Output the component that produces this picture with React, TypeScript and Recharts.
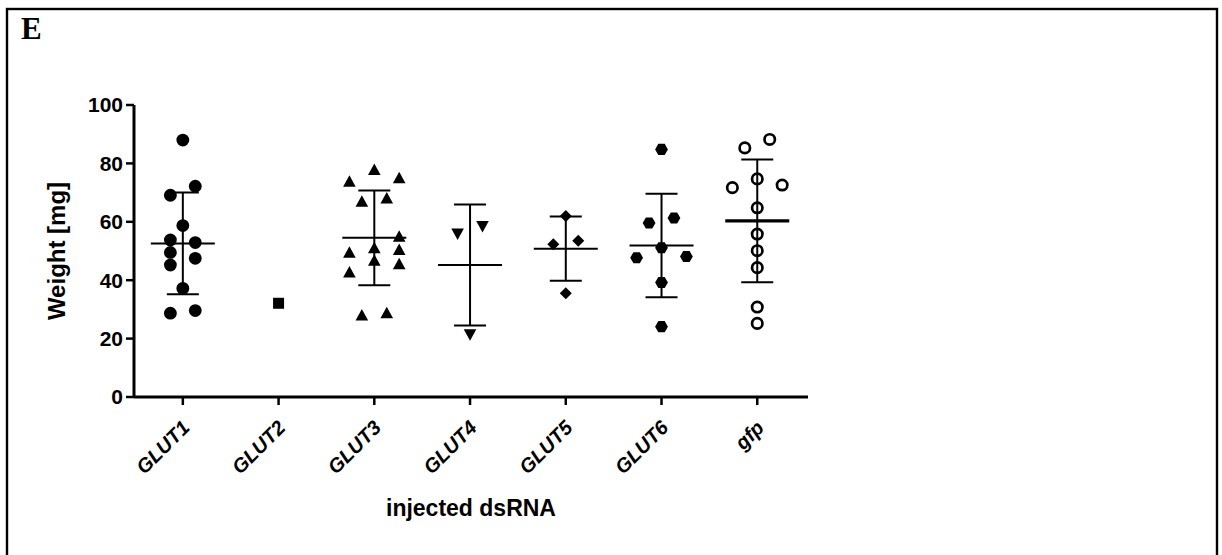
import { ComposedChart, Scatter, XAxis, YAxis, ErrorBar, Label } from "recharts"

// dsRNA groups on the x axis
const groups = ["GLUT1", "GLUT2", "GLUT3", "GLUT4", "GLUT5", "GLUT6", "gfp"]
const yTicks = [0, 20, 40, 60, 80, 100]

// individual weights [mg] and their column slot (scatter spread) in each group
const glut1Values = [88.0, 72.2, 69.1, 58.7, 53.8, 52.9, 49.5, 47.5, 45.2, 37.2, 29.6, 28.7]
const glut1Slots = [0, 1, -1, 0, -1, 1, -1, 1, -1, 0, 1, -1]
const glut2Values = [32.1]
const glut2Slots = [0]
const glut3Values = [77.7, 74.9, 73.7, 68.0, 66.9, 54.9, 50.9, 50.3, 49.4, 46.7, 45.5, 42.6, 28.7, 27.9]
const glut3Slots = [0, 2, -2, 1, -1, 2, 0, 2, -2, 0, 2, -2, 1, -1]
const glut4Values = [58.6, 56.0, 21.5]
const glut4Slots = [1, -1, 0]
const glut5Values = [62.0, 53.5, 52.3, 35.5]
const glut5Slots = [0, 1, -1, 0]
const glut6Values = [84.8, 61.3, 59.6, 51.1, 48.1, 47.7, 39.2, 24.1]
const glut6Slots = [0, 1, -1, 0, 2, -2, 0, 0]
const gfpValues = [88.2, 85.3, 74.7, 72.6, 71.7, 64.8, 55.8, 50.1, 44.3, 30.8, 25.2]
const gfpSlots = [1, -1, 0, 2, -2, 0, 0, 0, 0, 0, 0]

// mean and SD per group (GLUT2 has n = 1)
const means = [52.6, null, 54.5, 45.2, 50.8, 51.9, 60.3]
const sds = [17.4, null, 16.2, 20.7, 11.0, 17.7, 21.0]

const SLOT = 0.13
const FONT = "'Liberation Sans', Arial, sans-serif"

const toPoints = (values: number[], slots: number[], group: number) =>
    values.map((v, k) => ({ x: group + 1 + slots[k] * SLOT, y: v }))

const series = [
    { kind: "circle", data: toPoints(glut1Values, glut1Slots, 0) },
    { kind: "square", data: toPoints(glut2Values, glut2Slots, 1) },
    { kind: "triangle", data: toPoints(glut3Values, glut3Slots, 2) },
    { kind: "triangleDown", data: toPoints(glut4Values, glut4Slots, 3) },
    { kind: "diamond", data: toPoints(glut5Values, glut5Slots, 4) },
    { kind: "hexagon", data: toPoints(glut6Values, glut6Slots, 5) },
    { kind: "open", data: toPoints(gfpValues, gfpSlots, 6) },
]

const summary = groups
    .map((g, i) => ({ x: i + 1, y: means[i], sd: sds[i], name: g }))
    .filter((d) => d.y !== null)

function Marker(props: any) {
    const { cx, cy, kind } = props
    if (cx == null || cy == null) return null
    const r = 6.4
    switch (kind) {
        case "square":
            return <rect x={cx - 5.5} y={cy - 5.5} width={11} height={11} fill="#000" />
        case "triangle":
            return <polygon points={`${cx},${cy - 6.5} ${cx + 6.3},${cy + 5} ${cx - 6.3},${cy + 5}`} fill="#000" />
        case "triangleDown":
            return <polygon points={`${cx},${cy + 6.5} ${cx + 6.3},${cy - 5} ${cx - 6.3},${cy - 5}`} fill="#000" />
        case "diamond":
            return <polygon points={`${cx},${cy - 6} ${cx + 6},${cy} ${cx},${cy + 6} ${cx - 6},${cy}`} fill="#000" />
        case "hexagon": {
            const pts = [0, 60, 120, 180, 240, 300]
                .map((a) => `${cx + r * Math.cos((a * Math.PI) / 180)},${cy + r * Math.sin((a * Math.PI) / 180)}`)
                .join(" ")
            return <polygon points={pts} fill="#000" />
        }
        case "open":
            return <circle cx={cx} cy={cy} r={5.2} fill="none" stroke="#000" strokeWidth={2.7} />
        default:
            return <circle cx={cx} cy={cy} r={r} fill="#000" />
    }
}

function MeanLine(props: any) {
    const { cx, cy, payload } = props
    if (cx == null || cy == null) return null
    const thick = payload?.name === "gfp"
    return <line x1={cx - 32} x2={cx + 32} y1={cy} y2={cy} stroke="#000" strokeWidth={thick ? 3.2 : 2} />
}

function GroupTick(props: any) {
    const { x, y, payload } = props
    const label = groups[payload.value - 1]
    return (
        <g transform={`translate(${x + 8} ${y + 24}) rotate(-45)`}>
            <text x={0} y={0} textAnchor="end" fontFamily={FONT} fontSize={20} fontWeight="bold" fontStyle="italic" fill="#000">
                {label}
            </text>
        </g>
    )
}

export default function App() {
    return (
        <div style={{ position: "absolute", left: 0, top: 0, width: 1222, height: 555, background: "#fff", overflow: "hidden" }}>
            <ComposedChart width={1222} height={555} margin={{ top: 105, right: 414, bottom: 0, left: 0 }}>
                <XAxis
                    type="number"
                    dataKey="x"
                    domain={[0.49, 7.53]}
                    ticks={[1, 2, 3, 4, 5, 6, 7]}
                    allowDataOverflow
                    height={158}
                    tick={<GroupTick />}
                    tickSize={8}
                    tickMargin={0}
                    axisLine={{ stroke: "#000", strokeWidth: 3 }}
                    tickLine={{ stroke: "#000", strokeWidth: 2.5 }}
                >
                    <Label
                        content={({ viewBox }: any) => (
                            <text x={viewBox.x + viewBox.width / 2} y={viewBox.y + 119} textAnchor="middle" fontFamily={FONT} fontSize={23} fontWeight="bold" fill="#000">
                                injected dsRNA
                            </text>
                        )}
                    />
                </XAxis>
                <YAxis
                    type="number"
                    domain={[0, 100]}
                    ticks={yTicks}
                    allowDataOverflow
                    width={134}
                    tickSize={8}
                    tickMargin={3}
                    axisLine={{ stroke: "#000", strokeWidth: 3 }}
                    tickLine={{ stroke: "#000", strokeWidth: 2.5 }}
                    tick={{ fill: "#000", fontFamily: FONT, fontSize: 21, fontWeight: "bold" }}
                >
                    <Label
                        content={({ viewBox }: any) => {
                            const cx = viewBox.x + 65
                            const cy = viewBox.y + viewBox.height / 2
                            return (
                                <text x={cx} y={cy} transform={`rotate(-90, ${cx}, ${cy})`} textAnchor="middle" fontFamily={FONT} fontSize={24} fontWeight="bold" fill="#000">
                                    Weight [mg]
                                </text>
                            )
                        }}
                    />
                </YAxis>
                <Scatter data={summary} dataKey="y" shape={<MeanLine />} isAnimationActive={false}>
                    <ErrorBar dataKey="sd" direction="y" width={16} stroke="#000" strokeWidth={2} isAnimationActive={false} />
                </Scatter>
                {series.map((s, i) => (
                    <Scatter
                        key={groups[i]}
                        name={groups[i]}
                        data={s.data}
                        dataKey="y"
                        shape={(p: any) => <Marker {...p} kind={s.kind} />}
                        isAnimationActive={false}
                    />
                ))}
            </ComposedChart>
            <svg width={1222} height={555} style={{ position: "absolute", left: 0, top: 0, pointerEvents: "none" }}>
                <rect x={7} y={9} width={1210} height={560} fill="none" stroke="#000" strokeWidth={2.4} />
                <text x={21} y={39} fontFamily="'Liberation Serif', 'Times New Roman', serif" fontWeight="bold" fontSize={31} fill="#000">
                    E
                </text>
            </svg>
        </div>
    )
}
